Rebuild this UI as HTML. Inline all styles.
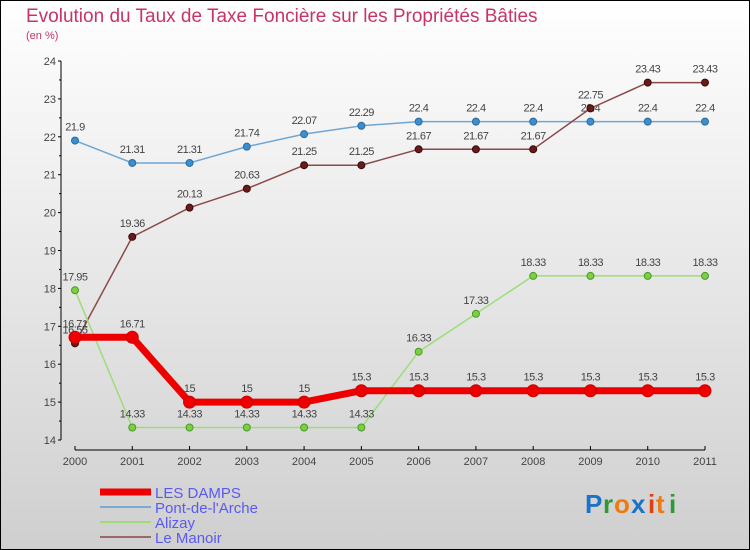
<!DOCTYPE html>
<html><head><meta charset="utf-8"><style>
body{margin:0}
#c{width:750px;height:550px;position:relative;overflow:hidden;font-family:"Liberation Sans",sans-serif}
</style></head><body>
<div id="c">
<svg id="s" width="750" height="550" xmlns="http://www.w3.org/2000/svg">
<defs><linearGradient id="bg" x1="0" y1="0" x2="0" y2="1"><stop offset="0" stop-color="#ffffff"/><stop offset="1" stop-color="#cfcfcf"/></linearGradient></defs>
<rect x="0.5" y="0.5" width="749" height="549" fill="url(#bg)" stroke="#000"/>
<text x="26" y="22" font-size="19" fill="#c8336a">Evolution du Taux de Taxe Foncière sur les Propriétés Bâties</text>
<text x="26" y="39" font-size="11" fill="#c8336a">(en %)</text>
<g id="axes"></g><g id="series"></g><g id="legend"></g>
<g font-size="26" font-weight="bold">
<text x="585" y="513" fill="#1a73c8">P</text><text x="603" y="513" fill="#2a9a3a">r</text><text x="614" y="513" fill="#f07a10">o</text><text x="631" y="513" fill="#1a73c8">x</text><text x="648" y="513" fill="#e04010">i</text><text x="656" y="513" fill="#f07a10">t</text><text x="669" y="513" fill="#2a9a3a">i</text></g>
</svg></div>
<script>
const years=[2000,2001,2002,2003,2004,2005,2006,2007,2008,2009,2010,2011];
const yTicks=[14,15,16,17,18,19,20,21,22,23,24];
const damps=[16.71,16.71,15,15,15,15.3,15.3,15.3,15.3,15.3,15.3,15.3];
const pont=[21.9,21.31,21.31,21.74,22.07,22.29,22.4,22.4,22.4,22.4,22.4,22.4];
const alizay=[17.95,14.33,14.33,14.33,14.33,14.33,16.33,17.33,18.33,18.33,18.33,18.33];
const manoir=[16.55,19.36,20.13,20.63,21.25,21.25,21.67,21.67,21.67,22.75,23.43,23.43];
const NS="http://www.w3.org/2000/svg";
const xS=i=>75+i*(630/11);
const yS=v=>440-(v-14)*37.9;
function mk(p,t,a){const e=document.createElementNS(NS,t);for(const k in a)e.setAttribute(k,a[k]);p.appendChild(e);return e;}
const ax=document.getElementById('axes');
const yl=mk(ax,'line',{x1:61,y1:yS(24),x2:61,y2:yS(14),stroke:'#000'});


yTicks.forEach(v=>{
 mk(ax,'line',{x1:58,y1:yS(v),x2:61,y2:yS(v),stroke:'#000'});
 if(v<24) mk(ax,'line',{x1:59,y1:yS(v+0.5),x2:61,y2:yS(v+0.5),stroke:'#000'});
 const t=mk(ax,'text',{x:56,y:yS(v)+4,'font-size':11,fill:'#444','text-anchor':'end'});t.textContent=v;
 
 
});
const xl=mk(ax,'line',{x1:75,y1:450,x2:705,y2:450,stroke:'#000'});


years.forEach((y,i)=>{
 mk(ax,'line',{x1:xS(i),y1:446,x2:xS(i),y2:450,stroke:'#000'});
 const t=mk(ax,'text',{x:xS(i),y:465,'font-size':11,fill:'#444','text-anchor':'middle'});t.textContent=y;
 
 
});
const sg=document.getElementById('series');
function series(name,vals,color,w,r,dot,dotStroke,lblOff){
 const g=mk(sg,'g',{});
 
 
 mk(g,'polyline',{points:vals.map((v,i)=>xS(i)+','+yS(v)).join(' '),fill:'none',stroke:color,'stroke-width':w,'stroke-linejoin':'round'});
 vals.forEach((v,i)=>{
  const c=mk(g,'circle',{cx:xS(i),cy:yS(v),r:r,fill:dot,stroke:dotStroke,'stroke-width':1});
  
  
  const t=mk(g,'text',{x:xS(i),y:yS(v)+lblOff,'font-size':11,fill:'#444','text-anchor':'middle','letter-spacing':'-0.5'});t.textContent=v;
  
  
 });
}
series('pont-de-l-arche-series',pont,'#6fa6d4',1.5,3.5,'#3b8fd0','#2a6a9a',-10);
series('le-manoir-series',manoir,'#8a4a4a',1.5,3.5,'#6a1a1a','#3a0a0a',-10);
series('alizay-series',alizay,'#9edc7a',1.5,3.5,'#7ad040','#4a9a2a',-10);
series('les-damps-series',damps,'#ee0000',7,6,'#ee0000','#cc0000',-10);
const lg=document.getElementById('legend');
const items=[['LES DAMPS','#ee0000',7],["Pont-de-l'Arche",'#7aaad0',2],['Alizay','#9edc7a',2],['Le Manoir','#9a6a6a',2]];
items.forEach((it,i)=>{
 const y=492+i*15;
 const g=mk(lg,'g',{});
 
 
 mk(g,'line',{x1:100,y1:y,x2:151,y2:y,stroke:it[1],'stroke-width':it[2]});
 const t=mk(g,'text',{x:155,y:y+6,'font-size':15,fill:'#5a5af0'});t.textContent=it[0];
});
</script>
</body></html>
